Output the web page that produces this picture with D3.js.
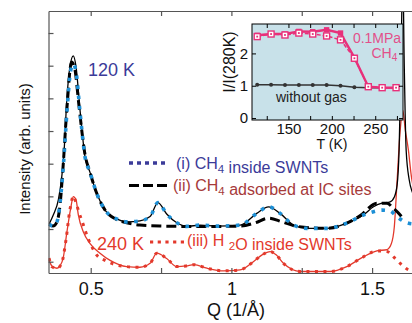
<!DOCTYPE html>
<html>
<head>
<meta charset="utf-8">
<script src="https://cdn.jsdelivr.net/npm/d3@7"></script>
<style>
  body { margin: 0; background: #fff; }
  svg  { display: block; font-family: "Liberation Sans", Arial, Helvetica, sans-serif; }
</style>
</head>
<body>
<div id="chart"></div>
<script>

// ---- main panel data: Q (1/Å) and intensity (arb. units) ----

// 120 K measured (black solid)
const q120 = [0.352, 0.367, 0.385, 0.397, 0.405, 0.415, 0.426, 0.438, 0.448, 0.462, 0.480, 0.497, 0.521, 0.551,
              0.592, 0.628, 0.675, 0.711, 0.739, 0.770, 0.806, 0.841, 0.889, 0.948, 1.031, 1.090, 1.132, 1.173,
              1.221, 1.268, 1.339, 1.410, 1.469, 1.505, 1.535, 1.564, 1.579, 1.589, 1.596, 1.603, 1.609, 1.614,
              1.621, 1.632, 1.643, 1.654];
const i120 = [2.15, 2.43, 2.89, 3.59, 4.33, 5.95, 6.96, 7.30, 6.96, 5.64, 4.20, 3.75, 3.10, 2.58,
              2.31, 2.22, 2.25, 2.38, 2.81, 2.46, 2.19, 2.08, 2.12, 2.09, 2.12, 2.48, 2.68, 2.48,
              2.12, 2.02, 2.02, 2.18, 2.43, 2.68, 2.79, 2.83, 2.98, 3.35, 4.42, 7.17, 10.0, 7.17,
              4.42, 3.50, 3.13, 2.95];

// (i) CH4 inside SWNTs (blue dotted)
const qInside = [0.352, 0.366, 0.380, 0.391, 0.403, 0.416, 0.428, 0.438, 0.448, 0.462, 0.480, 0.497, 0.521,
                 0.551, 0.592, 0.628, 0.675, 0.711, 0.739, 0.770, 0.806, 0.841, 0.889, 0.948, 1.031, 1.090,
                 1.132, 1.173, 1.221, 1.268, 1.339, 1.410, 1.469, 1.505, 1.535, 1.564, 1.588, 1.624, 1.650];
const iInside = [2.15, 2.09, 2.22, 2.80, 3.96, 5.64, 6.81, 7.05, 6.81, 5.58, 4.20, 3.75, 3.10,
                 2.58, 2.31, 2.22, 2.25, 2.38, 2.81, 2.46, 2.19, 2.08, 2.12, 2.09, 2.12, 2.48,
                 2.68, 2.48, 2.12, 2.02, 2.02, 2.18, 2.43, 2.53, 2.58, 2.55, 2.38, 2.19, 2.15];

// (ii) CH4 adsorbed at IC sites (black dashed)
const qIC = [0.352, 0.366, 0.380, 0.391, 0.401, 0.415, 0.432, 0.444, 0.458, 0.480, 0.497, 0.521, 0.551, 0.592,
             0.628, 0.675, 0.746, 0.841, 0.948, 1.031, 1.084, 1.132, 1.180, 1.234, 1.339, 1.410, 1.458, 1.517,
             1.553, 1.576, 1.600, 1.611];
const iIC = [2.15, 2.09, 2.22, 2.74, 3.81, 5.64, 7.11, 6.87, 5.80, 4.27, 3.75, 3.10, 2.58, 2.29,
             2.19, 2.12, 2.09, 2.08, 2.08, 2.09, 2.19, 2.33, 2.22, 2.08, 2.02, 2.18, 2.41, 2.79,
             2.79, 2.63, 2.43, 2.31];

// 240 K measured (red solid)
const q240 = [0.352, 0.362, 0.380, 0.391, 0.403, 0.415, 0.429, 0.438, 0.448, 0.456, 0.474, 0.497, 0.533, 0.569,
              0.628, 0.675, 0.711, 0.735, 0.770, 0.806, 0.839, 0.867, 0.913, 0.972, 1.031, 1.078, 1.109, 1.138,
              1.159, 1.185, 1.245, 1.351, 1.410, 1.469, 1.517, 1.553, 1.568, 1.579, 1.589, 1.600, 1.609, 1.618,
              1.629, 1.639, 1.653];
const i240 = [1.05, 0.87, 0.80, 0.87, 1.15, 1.88, 2.64, 2.99, 2.89, 2.43, 1.91, 1.56, 1.26, 1.04,
              0.85, 0.83, 0.95, 1.26, 1.10, 0.85, 0.87, 0.91, 0.80, 0.72, 0.75, 1.00, 1.21, 1.31,
              1.21, 0.95, 0.70, 0.70, 0.85, 1.15, 1.33, 1.37, 1.54, 2.07, 3.50, 5.03, 5.64, 5.03,
              4.42, 3.65, 3.04];

// (iii) H2O inside SWNTs (red dotted)
const qWater = [0.352, 0.362, 0.380, 0.398, 0.412, 0.426, 0.439, 0.448, 0.459, 0.474, 0.489, 0.504, 0.521, 0.551,
                0.592, 0.628, 0.675, 0.711, 0.735, 0.770, 0.806, 0.839, 0.867, 0.913, 0.972, 1.031, 1.078, 1.109,
                1.138, 1.159, 1.185, 1.245, 1.351, 1.410, 1.469, 1.517, 1.553, 1.582, 1.606, 1.629, 1.650];
const iWater = [1.11, 0.85, 0.79, 0.99, 1.66, 2.58, 3.01, 2.80, 2.49, 2.12, 1.75, 1.46, 1.21, 1.04,
                0.90, 0.85, 0.83, 0.95, 1.26, 1.10, 0.85, 0.87, 0.91, 0.80, 0.72, 0.75, 1.00, 1.21,
                1.31, 1.21, 0.95, 0.70, 0.70, 0.85, 1.15, 1.33, 1.31, 1.10, 0.90, 0.75, 0.70];

const qTicks      = [0.5, 0.75, 1, 1.25, 1.5];
const qTickLabels = ['0.5', '', '1', '', '1.5'];
const intTicks    = [1, 2, 3, 4, 5, 6, 7, 8];

// ---- inset data: I/I(280K) vs T ----
const tempK     = [114, 130, 146, 162, 178, 194, 210, 226, 242, 258, 274];
const noGas     = [1.03, 1.03, 1.02, 1.02, 1.02, 1.02, 1.00, 0.95, 0.94, 0.94, 0.94];
const ch4Solid  = [2.56, 2.60, 2.60, 2.68, 2.67, 2.73, 2.63, 1.87, 0.97, 0.94, 0.94];
const ch4Dashed = [2.52, 2.60, 2.57, 2.63, 2.60, 2.54, 2.42, 1.85, 0.97, 0.94, 0.94];
const tTicks      = [125, 150, 175, 200, 225, 250, 275];
const ratioTicks  = [0, 1, 2];


const width  = 412,
      height = 323;

const navy  = '#3b3b99',
      brick = '#a63a3a',
      red   = '#e3392c',
      blue  = '#1c8fd6',
      pink  = '#e8307a',
      axisC = '#555';

const zip = (a, b) => a.map((v, i) => [v, b[i]]);

const svg = d3.select('#chart')
    .append('svg')
      .attr('width',  width)
      .attr('height', height);

// main scales
const x = d3.scaleLinear().domain([0.35, 1.65]).range([48.5, 414.3]);
const y = d3.scaleLinear().domain([0.654, 8.674]).range([273, 11]);

svg.append('clipPath')
    .attr('id', 'plot-clip')
  .append('rect')
    .attr('x', x(0.35))
    .attr('y', y(8.674))
    .attr('width',  width - x(0.35))
    .attr('height', y(0.654) - y(8.674));

const line = d3.line()
    .x(d => x(d[0]))
    .y(d => y(d[1]))
    .curve(d3.curveMonotoneX);

const plot = svg.append('g').attr('clip-path', 'url(#plot-clip)');

// red: 240 K + (iii)
plot.append('path')
    .attr('d', line(zip(q240, i240)))
    .attr('fill', 'none')
    .attr('stroke', red)
    .attr('stroke-width', 1.3);

plot.append('path')
    .attr('d', line(zip(qWater, iWater)))
    .attr('fill', 'none')
    .attr('stroke', red)
    .attr('stroke-width', 3)
    .attr('stroke-dasharray', '3,5.5');

// black: 120 K, (ii), (i)
plot.append('path')
    .attr('d', line(zip(q120, i120)))
    .attr('fill', 'none')
    .attr('stroke', '#000')
    .attr('stroke-width', 1.3);

plot.append('path')
    .attr('d', line(zip(qIC, iIC)))
    .attr('fill', 'none')
    .attr('stroke', '#000')
    .attr('stroke-width', 3)
    .attr('stroke-dasharray', '10,5');

plot.append('path')
    .attr('d', line(zip(qInside, iInside)))
    .attr('fill', 'none')
    .attr('stroke', blue)
    .attr('stroke-width', 3.6)
    .attr('stroke-dasharray', '3.6,6.5');

// axes
const styleAxis = (g, size) => {
    g.attr('font-family', null).attr('font-size', size);
    g.select('.domain').attr('stroke', axisC).attr('stroke-width', 1.2);
    g.selectAll('.tick line').attr('stroke', axisC).attr('stroke-width', 1.2);
    g.selectAll('.tick text').attr('fill', '#111');
};

svg.append('g')
    .attr('transform', `translate(0, ${y(0.654)})`)
    .call(d3.axisBottom(x).tickValues(qTicks).tickSizeInner(-5).tickSizeOuter(0).tickPadding(9)
          .tickFormat((d, i) => qTickLabels[i]))
    .call(g => styleAxis(g, 18));

svg.append('g')
    .attr('transform', `translate(0, ${y(8.674)})`)
    .call(d3.axisTop(x).tickValues(qTicks).tickSizeInner(-5).tickSizeOuter(0).tickFormat(''))
    .call(g => styleAxis(g, 18));

svg.append('g')
    .attr('transform', `translate(${x(0.35)}, 0)`)
    .call(d3.axisLeft(y).tickValues(intTicks).tickSizeInner(-5).tickSizeOuter(0).tickFormat(''))
    .call(g => styleAxis(g, 18));

// axis titles
svg.append('text')
    .attr('x', 236)
    .attr('y', 316)
    .attr('text-anchor', 'middle')
    .attr('font-size', 18)
    .attr('fill', '#111')
    .text('Q (1/Å)');

svg.append('text')
    .attr('transform', 'translate(30, 149) rotate(-90)')
    .attr('text-anchor', 'middle')
    .attr('font-size', 15)
    .attr('fill', '#111')
    .text('Intensity (arb. units)');

// temperature labels
svg.append('text')
    .attr('x', 88).attr('y', 76)
    .attr('font-size', 18)
    .attr('fill', navy)
    .text('120 K');

svg.append('text')
    .attr('x', 97).attr('y', 249.5)
    .attr('font-size', 18)
    .attr('fill', red)
    .text('240 K');

// legend
const legendFont = 16;

const addSub = (sel, parts, color) => {
    const t = sel.append('text')
        .attr('font-size', legendFont)
        .attr('fill', color);
    parts.forEach(p => {
        if (p.sub) {
            t.append('tspan').attr('font-size', legendFont * 0.72).attr('dy', 4).text(p.sub);
            t.append('tspan').attr('dy', -4).text('');
        } else {
            t.append('tspan').text(p.t);
        }
    });
    return t;
};

svg.append('line')
    .attr('x1', 129).attr('x2', 167).attr('y1', 163).attr('y2', 163)
    .attr('stroke', navy).attr('stroke-width', 3.6).attr('stroke-dasharray', '4,4');
addSub(svg, [{ t: '(i) CH' }, { sub: '4' }, { t: ' inside SWNTs' }], navy)
    .attr('x', 176).attr('y', 168.5);

svg.append('line')
    .attr('x1', 129).attr('x2', 168).attr('y1', 185.5).attr('y2', 185.5)
    .attr('stroke', '#000').attr('stroke-width', 3).attr('stroke-dasharray', '10,4');
addSub(svg, [{ t: '(ii) CH' }, { sub: '4' }, { t: ' adsorbed at IC sites' }], brick)
    .attr('x', 173).attr('y', 191);

svg.append('line')
    .attr('x1', 150).attr('x2', 186).attr('y1', 242).attr('y2', 242)
    .attr('stroke', red).attr('stroke-width', 3.2)
    .attr('stroke-dasharray', '3.2,4.5');
addSub(svg, [{ t: '(iii) H ' }, { sub: '2' }, { t: 'O inside SWNTs' }], red)
    .attr('x', 187).attr('y', 246);


// ---- inset ----
const ix = d3.scaleLinear().domain([108, 282]).range([252, 403]);
const iy = d3.scaleLinear().domain([-0.06, 2.91]).range([120, 24]);

const inset = svg.append('g');

inset.append('rect')
    .attr('x', ix(108))
    .attr('y', iy(2.91))
    .attr('width',  ix(282) - ix(108))
    .attr('height', iy(-0.06) - iy(2.91))
    .attr('fill', '#c8e1e9');

svg.append('clipPath')
    .attr('id', 'inset-clip')
  .append('rect')
    .attr('x', ix(108))
    .attr('y', iy(2.91))
    .attr('width',  ix(282) - ix(108))
    .attr('height', iy(-0.06) - iy(2.91));

const iline = d3.line()
    .x(d => ix(d[0]))
    .y(d => iy(d[1]));

const ip = inset.append('g').attr('clip-path', 'url(#inset-clip)');

// without gas
ip.append('path')
    .attr('d', iline(zip(tempK, noGas)))
    .attr('fill', 'none')
    .attr('stroke', '#333')
    .attr('stroke-width', 1.5);

ip.selectAll('.nogas')
    .data(zip(tempK, noGas))
    .enter()
    .append('circle')
    .attr('class', 'nogas')
    .attr('cx', d => ix(d[0]))
    .attr('cy', d => iy(d[1]))
    .attr('r', 2)
    .attr('fill', '#333');

// 0.1 MPa CH4
ip.append('path')
    .attr('d', iline(zip(tempK, ch4Solid)))
    .attr('fill', 'none')
    .attr('stroke', pink)
    .attr('stroke-width', 2.4);

ip.selectAll('.filled')
    .data(zip(tempK, ch4Solid))
    .enter()
    .append('rect')
    .attr('class', 'filled')
    .attr('x', d => ix(d[0]) - 2.7)
    .attr('y', d => iy(d[1]) - 2.7)
    .attr('width', 5.4)
    .attr('height', 5.4)
    .attr('fill', pink);

ip.append('path')
    .attr('d', iline(zip(tempK, ch4Dashed)))
    .attr('fill', 'none')
    .attr('stroke', pink)
    .attr('stroke-width', 1.5)
    .attr('stroke-dasharray', '4,2');

const open = ip.selectAll('.open')
    .data(zip(tempK, ch4Dashed))
    .enter()
    .append('g')
    .attr('class', 'open')
    .attr('transform', d => `translate(${ix(d[0])}, ${iy(d[1])})`);

open.append('rect')
    .attr('x', -3).attr('y', -3)
    .attr('width', 6).attr('height', 6)
    .attr('fill', '#fff')
    .attr('stroke', pink)
    .attr('stroke-width', 1.4);

open.append('rect')
    .attr('x', -0.9).attr('y', -0.9)
    .attr('width', 1.8).attr('height', 1.8)
    .attr('fill', pink);

// inset frame + axes
inset.append('rect')
    .attr('x', ix(108))
    .attr('y', iy(2.91))
    .attr('width',  ix(282) - ix(108))
    .attr('height', iy(-0.06) - iy(2.91))
    .attr('fill', 'none')
    .attr('stroke', '#000')
    .attr('stroke-width', 1);

const styleInset = g => {
    g.attr('font-family', null).attr('font-size', 15);
    g.select('.domain').remove();
    g.selectAll('.tick line').attr('stroke', '#000');
    g.selectAll('.tick text').attr('fill', '#111');
};

inset.append('g')
    .attr('transform', `translate(0, ${iy(-0.06)})`)
    .call(d3.axisBottom(ix).tickValues(tTicks).tickSizeInner(-4).tickSizeOuter(0).tickPadding(3.5)
          .tickFormat(d => d % 50 === 0 ? d : ''))
    .call(styleInset);

inset.append('g')
    .attr('transform', `translate(0, ${iy(2.91)})`)
    .call(d3.axisTop(ix).tickValues(tTicks).tickSizeInner(-4).tickSizeOuter(0).tickFormat(''))
    .call(styleInset);

inset.append('g')
    .attr('transform', `translate(${ix(108)}, 0)`)
    .call(d3.axisLeft(iy).tickValues(ratioTicks).tickSizeInner(-4).tickSizeOuter(0).tickPadding(4)
          .tickFormat(d3.format('d')))
    .call(styleInset);

inset.append('g')
    .attr('transform', `translate(${ix(282)}, 0)`)
    .call(d3.axisRight(iy).tickValues(ratioTicks).tickSizeInner(-4).tickSizeOuter(0).tickFormat(''))
    .call(styleInset);

inset.append('text')
    .attr('x', 332).attr('y', 149)
    .attr('text-anchor', 'middle')
    .attr('font-size', 14)
    .attr('fill', '#111')
    .text('T (K)');

inset.append('text')
    .attr('transform', 'translate(235, 62) rotate(-90)')
    .attr('text-anchor', 'middle')
    .attr('font-size', 16)
    .attr('fill', '#111')
    .text('I/I(280K)');

inset.append('text')
    .attr('x', 377).attr('y', 43)
    .attr('text-anchor', 'middle')
    .attr('font-size', 14)
    .attr('fill', '#e2508a')
    .text('0.1MPa');

const ch4 = inset.append('text')
    .attr('x', 371.5).attr('y', 58)
    .attr('font-size', 14)
    .attr('fill', '#e2508a');
ch4.append('tspan').text('CH');
ch4.append('tspan').attr('font-size', 10).attr('dy', 3).text('4');

inset.append('text')
    .attr('x', 276).attr('y', 101.7)
    .attr('font-size', 14)
    .attr('fill', '#222')
    .text('without gas');

</script>
</body>
</html>
